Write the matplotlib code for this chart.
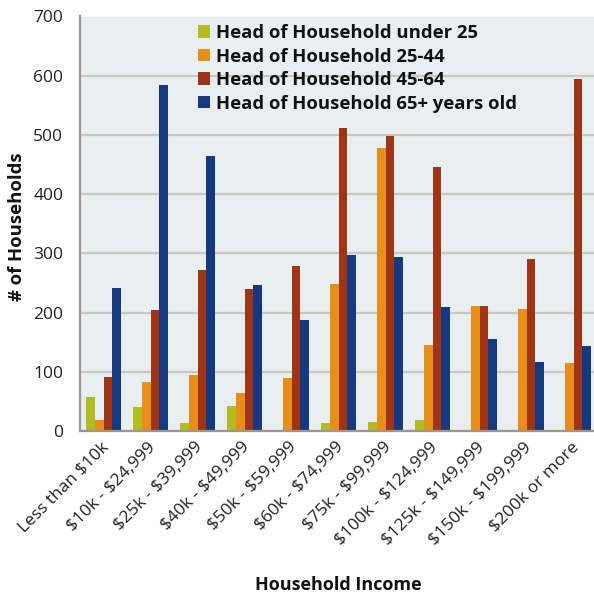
import matplotlib
matplotlib.use("Agg")
import matplotlib.pyplot as plt
import matplotlib.transforms as mtransforms
import numpy as np

plt.rcParams['font.family'] = ['Open Sans', 'DejaVu Sans']
plt.rcParams['text.parse_math'] = False

categories = ["Less than $10k", "$10k - $24,999", "$25k - $39,999", "$40k - $49,999",
              "$50k - $59,999", "$60k - $74,999", "$75k - $99,999", "$100k - $124,999",
              "$125k - $149,999", "$150k - $199,999", "$200k or more"]
under25 = [57, 41, 13, 43, 0, 13, 16, 18, 0, 0, 0]
age25_44 = [19, 83, 95, 64, 89, 248, 478, 146, 211, 206, 114]
age45_64 = [91, 205, 272, 239, 279, 512, 499, 446, 211, 291, 595]
age65 = [241, 585, 465, 246, 187, 297, 294, 210, 155, 117, 144]

series_names = ["Head of Household under 25", "Head of Household 25-44",
                "Head of Household 45-64", "Head of Household 65+ years old"]
colors = ["#B2BB22", "#E68D1A", "#A03417", "#15387E"]

W, H = 594, 595
fig = plt.figure(figsize=(W / 100, H / 100), dpi=100)
ax = fig.add_axes([80 / W, (H - 431) / H, 517 / W, 414.5 / H])
ax.set_facecolor("#E9EEF1")

x = np.arange(len(categories))
bw = 0.183
data = [under25, age25_44, age45_64, age65]
handles = []
for i, (vals, c, name) in enumerate(zip(data, colors, series_names)):
    b = ax.bar(x + (i - 1.5) * bw, vals, bw, color=c, label=name, zorder=3)
    handles.append(b)

ax.set_xlim(-0.5, len(categories) - 0.5)
ax.set_ylim(0, 700)
ax.set_yticks(range(0, 701, 100))
ax.yaxis.grid(True, color="#CBC6BF", linewidth=1.6, zorder=0)
ax.set_axisbelow(True)
for s in ["top", "right"]:
    ax.spines[s].set_visible(False)
for s in ["left", "bottom"]:
    ax.spines[s].set_color("#9E978E")
    ax.spines[s].set_linewidth(1.6)
ax.spines["bottom"].set_zorder(4)

ax.tick_params(axis="y", length=0, pad=12, labelsize=12.5, labelcolor="#222222")
ax.tick_params(axis="x", length=0, pad=10, labelsize=12.5, labelcolor="#222222")
ax.set_xticks(x)
ax.set_xticklabels(categories, rotation=45, ha="right", va="center", rotation_mode="anchor")
offset = mtransforms.ScaledTranslation(3 / 100, 0, fig.dpi_scale_trans)
for lab in ax.get_xticklabels():
    lab.set_transform(lab.get_transform() + offset)

fig.text(17 / W, 1 - 227 / H, "# of Households", rotation=90, ha="center", va="center",
         fontsize=13.3, fontweight="bold", color="#111111")
fig.text(338 / W, 1 - 585 / H, "Household Income", ha="center", va="center",
         fontsize=13, fontweight="bold", color="#111111")

leg = fig.legend(handles=handles, labels=series_names, loc="upper left",
                 bbox_to_anchor=(198 / W, 1 - 24 / H), frameon=False,
                 handlelength=0.65, handleheight=0.65, handletextpad=0.3,
                 labelspacing=0.3, borderpad=0, borderaxespad=0,
                 prop={"weight": "bold", "size": 13.3})
for t in leg.get_texts():
    t.set_color("#111111")

fig.savefig("out.png", dpi=100)
